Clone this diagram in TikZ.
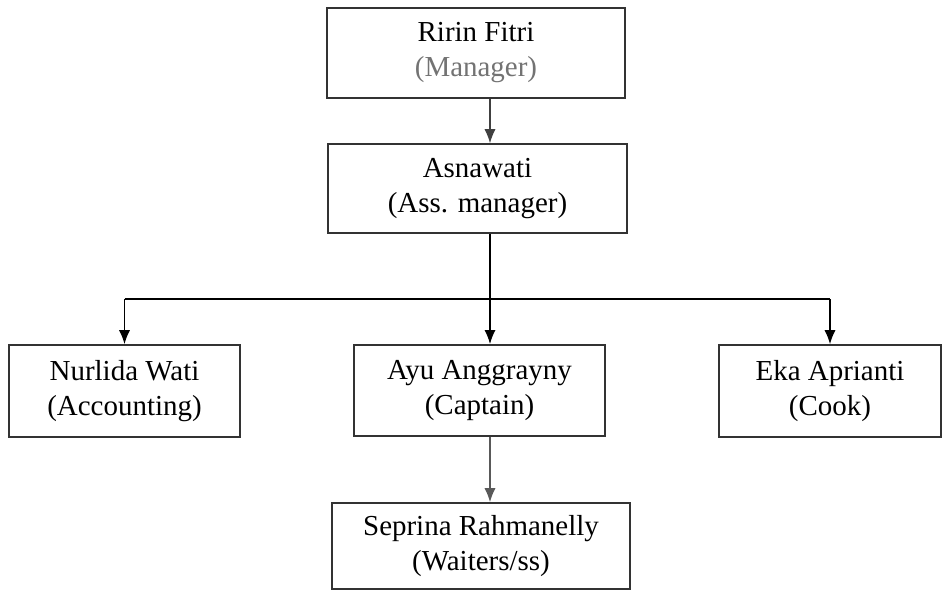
\documentclass[tikz,border=0pt]{standalone}
\usepackage{fontspec}
\setmainfont{Liberation Serif}
\usetikzlibrary{arrows.meta,backgrounds}

\begin{document}
\begin{tikzpicture}[x=0.025cm, y=-0.025cm,
  background rectangle/.style={fill=white}, show background rectangle,
  staff/.style={draw=black!80, line width=1.2pt, align=center, inner sep=0pt,
    font=\fontsize{20.6}{24.9}\selectfont},
  link/.style={line width=1pt, -{Latex[length=3.5mm, width=2.8mm]}}]

\useasboundingbox (0,0) rectangle (943,591);

% boxes
\node[staff, minimum width=7.45cm, minimum height=2.25cm] (mgr) at (476,53)
  {Ririn Fitri\\ \textcolor{black!55}{(Manager)}};
\node[staff, minimum width=7.48cm, minimum height=2.22cm] (ass) at (477.5,188.5)
  {Asnawati\\(Ass. manager)};
\node[staff, minimum width=5.78cm, minimum height=2.3cm] (acc) at (124.5,391)
  {Nurlida Wati\\(Accounting)};
\node[staff, minimum width=6.28cm, minimum height=2.28cm] (cap) at (479.5,390.5)
  {Ayu Anggrayny\\(Captain)};
\node[staff, minimum width=5.55cm, minimum height=2.3cm] (cook) at (830,391)
  {Eka Aprianti\\(Cook)};
\node[staff, minimum width=7.45cm, minimum height=2.15cm] (wait) at (481,546)
  {Seprina Rahmanelly\\(Waiters/ss)};

% branch point
\coordinate (spine) at (490,299);

% arrows
\draw[link, black!75] (mgr.south -| spine) -- (ass.north -| spine);
\draw[link] (ass.south -| spine) -- (cap.north -| spine);
\draw[line width=1.6pt] (acc.north |- spine) -- (cook.north |- spine);
\draw[link] (acc.north |- spine) -- (acc.north);
\draw[link] (cook.north |- spine) -- (cook.north);
\draw[link, black!65] (cap.south -| spine) -- (wait.north -| spine);

\end{tikzpicture}
\end{document}
